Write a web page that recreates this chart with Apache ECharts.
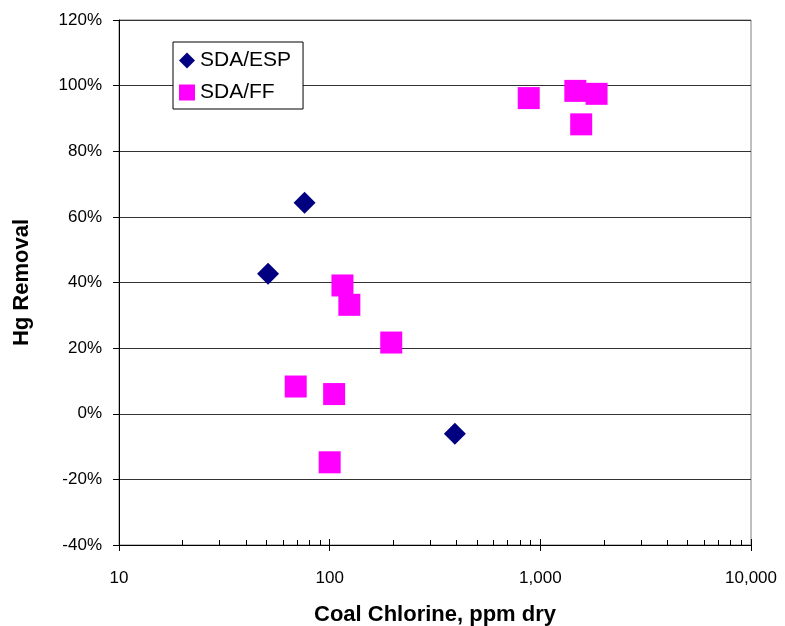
<!DOCTYPE html>
<html lang="en">
<head>
	<meta charset="UTF-8">
	<script src="https://cdn.jsdelivr.net/npm/echarts@6/dist/echarts.min.js"></script>
	<title>Hg Removal vs Coal Chlorine</title>
	<style>
		html, body { margin: 0; padding: 0; background: #fff; }
	</style>
</head>
<body>
	<div id="main" style="width: 785px;height:626px;"></div>
	<script>
		// SDA/ESP points: coal chlorine (ppm dry) and Hg removal (%)
		var espChlorine = [51, 76, 393];
		var espRemoval = [42.7, 64.3, -6.1];

		// SDA/FF points
		var ffChlorine = [115, 124, 196, 69, 105, 100, 881, 1466, 1849, 1563];
		var ffRemoval = [39.1, 33.2, 21.7, 8.3, 6.0, -14.8, 96.2, 98.4, 97.5, 88.2];

		// minor ticks on the log axis
		var minorTicks = [20, 30, 40, 50, 60, 70, 80, 90,
			200, 300, 400, 500, 600, 700, 800, 900,
			2000, 3000, 4000, 5000, 6000, 7000, 8000, 9000];

		function pairs(xs, ys) {
			return xs.map(function (x, i) { return [x, ys[i]]; });
		}

		var font = 'Arial, "Liberation Sans", sans-serif';

		var chart = echarts.init(document.getElementById('main'));
		chart.setOption({
			animation: false,
			textStyle: { fontFamily: font },
			grid: {
				left: 119, right: 34, top: 20, bottom: 81,
				outerBoundsMode: 'none',
				show: true, borderColor: '#808080', borderWidth: 1
			},
			legend: {
				orient: 'vertical',
				left: 173, top: 42,
				backgroundColor: '#fff',
				borderColor: '#000', borderWidth: 1,
				padding: [8, 12, 6, 6],
				itemGap: 11,
				itemWidth: 16, itemHeight: 16,
				textStyle: { fontSize: 21, color: '#000', fontFamily: font },
				data: [
					{ name: 'SDA/ESP', icon: 'diamond' },
					{ name: 'SDA/FF', icon: 'rect' }
				]
			},
			xAxis: [
				{
					type: 'log', logBase: 10, min: 10, max: 10000,
					name: 'Coal Chlorine, ppm dry',
					nameLocation: 'middle', nameGap: 59,
					nameTextStyle: { fontSize: 22, fontWeight: 'bold', color: '#000', fontFamily: font },
					axisLine: { onZero: false, lineStyle: { color: '#000', width: 1 } },
					axisTick: { show: true, length: 6, lineStyle: { color: '#000' } },
					axisLabel: {
						fontSize: 17, color: '#000', margin: 25,
						formatter: function (v) { return Math.round(v).toLocaleString('en-US'); }
					},
					splitLine: { show: false }
				},
				{
					type: 'log', logBase: 10, min: 10, max: 10000,
					position: 'bottom',
					axisLine: { show: false, onZero: false },
					axisTick: { show: true, inside: true, length: 5, customValues: minorTicks, lineStyle: { color: '#000' } },
					axisLabel: { show: false },
					splitLine: { show: false }
				},
				{
					type: 'log', logBase: 10, min: 10, max: 10000,
					position: 'bottom',
					axisLine: { show: false, onZero: false },
					axisTick: { show: true, inside: true, length: 6, lineStyle: { color: '#000' } },
					axisLabel: { show: false },
					splitLine: { show: false }
				}
			],
			yAxis: {
				type: 'value', min: -40, max: 120, interval: 20,
				name: 'Hg Removal',
				nameLocation: 'middle', nameGap: 86,
				nameTextStyle: { fontSize: 22, fontWeight: 'bold', color: '#000', fontFamily: font },
				axisLine: { show: true, onZero: false, lineStyle: { color: '#000', width: 1 } },
				axisTick: { show: true, length: 6, lineStyle: { color: '#000' } },
				axisLabel: {
					fontSize: 17, color: '#000', margin: 17,
					formatter: function (v) { return v + '%'; }
				},
				splitLine: { show: true, lineStyle: { color: '#333', width: 1 } }
			},
			series: [
				{
					name: 'SDA/ESP',
					type: 'scatter',
					symbol: 'diamond',
					symbolSize: 22,
					itemStyle: { color: '#000080', opacity: 1 },
					data: pairs(espChlorine, espRemoval)
				},
				{
					name: 'SDA/FF',
					type: 'scatter',
					symbol: 'rect',
					symbolSize: 22,
					itemStyle: { color: '#FF00FF', opacity: 1 },
					data: pairs(ffChlorine, ffRemoval)
				}
			]
		});
	</script>
</body>
</html>
